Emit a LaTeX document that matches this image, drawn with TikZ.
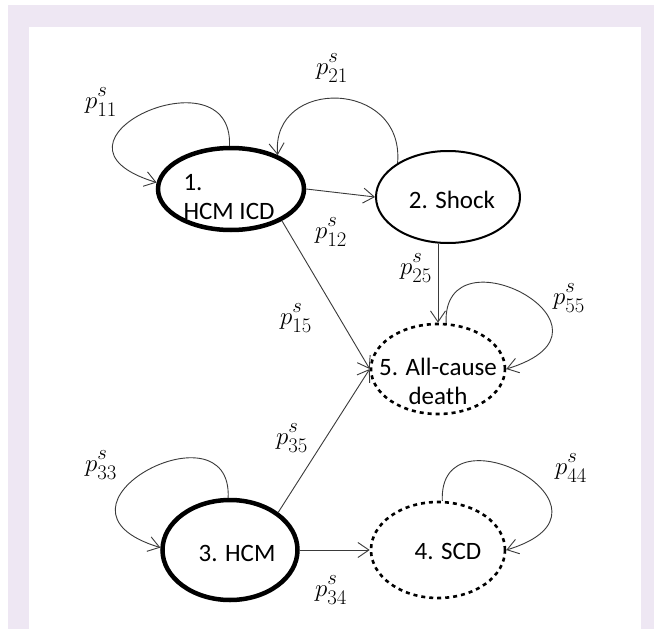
\documentclass[tikz,border=0pt]{standalone}
\usepackage{fontspec}
\setmainfont{Carlito}
\usetikzlibrary{arrows.meta,shapes.geometric,positioning}
\definecolor{frame}{HTML}{EEE7F3}
\definecolor{edge}{HTML}{3A3A3A}
\newcommand{\ptrans}[1]{$p^{\raisebox{3pt}{$\scriptstyle s$}}_{\raisebox{-1pt}{$\scriptstyle #1$}}$}
\tikzset{
  st_base/.style={ellipse,draw=black,inner sep=0pt},
  st_thick/.style={st_base,line width=4.5pt},
  st_plain/.style={st_base,line width=2pt},
  st_dead/.style={st_base,line width=2.6pt,dash pattern=on 4pt off 4pt},
  st_text/.style={font=\fontsize{25}{29}\selectfont,align=center,inner sep=0pt},
  prob/.style={font=\fontsize{31}{33}\selectfont,inner sep=0pt},
  arr/.style={-{Straight Barb[length=11pt,width=15pt]},draw=edge,line width=0.9pt},
}
\begin{document}
\begin{tikzpicture}[x=1pt,y=-1pt]
  \fill[white] (0,0) rectangle (654,629);
  \fill[frame] (8,5) rectangle (654,629);
  \fill[white] (29,27) rectangle (641,629);
  \useasboundingbox (0,0) rectangle (654,629);

  % states
  \node[st_thick,minimum width=146pt,minimum height=82pt,
    label={[st_text,align=left,yshift=-8pt,xshift=-2pt]center:1.\\HCM ICD}] (s1) at (231,189) {};
  \node[st_plain,minimum width=144pt,minimum height=92pt,
    label={[st_text,xshift=4pt,yshift=-3pt]center:2. Shock}] (s2) at (448,197) {};
  \node[st_thick,minimum width=135pt,minimum height=100pt,
    label={[st_text,xshift=7pt,yshift=-3pt]center:3. HCM}] (s3) at (230,550) {};
  \node[st_dead,minimum width=134pt,minimum height=96pt,
    label={[st_text,xshift=10pt,yshift=-1pt]center:4. SCD}] (s4) at (438,550) {};
  \node[st_dead,minimum width=134pt,minimum height=90pt,
    label={[st_text,yshift=-12pt]center:5. All-cause\\death}] (s5) at (438,369) {};

  % transitions
  \draw[arr] (s1.east) -- (s2.west);
  \draw[arr] (s2.146) .. controls +(7,-84) and +(-7,-78) .. (s1.36);
  \draw[arr] (s1.92) .. controls +(4,-98) and +(-132,-40) .. (s1.175);
  \draw[arr] (s3.92) .. controls +(4,-98) and +(-132,-40) .. (s3.178);
  \draw[arr] (s4.85) .. controls +(-4,-98) and +(132,-40) .. (s4.east);
  \draw[arr] (s5.80) .. controls +(-4,-98) and +(132,-40) .. (s5.east);
  \draw[arr] (s1.-32) -- (s5.west);
  \draw[arr] (s2.south -| s5.north) -- (s5.north);
  \draw[arr] (s3.38) -- (s5.west);
  \draw[arr] (s3.east) -- (s4.west);

  % probabilities
  \node[prob] (l11) at (101,102) {\ptrans{11}};
  \node[prob] (l21) at (332,68) {\ptrans{21}};
  \node[prob] (l12) at (331,232) {\ptrans{12}};
  \node[prob] (l25) at (416,268) {\ptrans{25}};
  \node[prob] (l55) at (569,298) {\ptrans{55}};
  \node[prob] (l15) at (296,318) {\ptrans{15}};
  \node[prob] (l35) at (292,438) {\ptrans{35}};
  \node[prob] (l33) at (101,465) {\ptrans{33}};
  \node[prob] (l44) at (571,468) {\ptrans{44}};
  \node[prob] (l34) at (331,590) {\ptrans{34}};
\end{tikzpicture}
\end{document}
